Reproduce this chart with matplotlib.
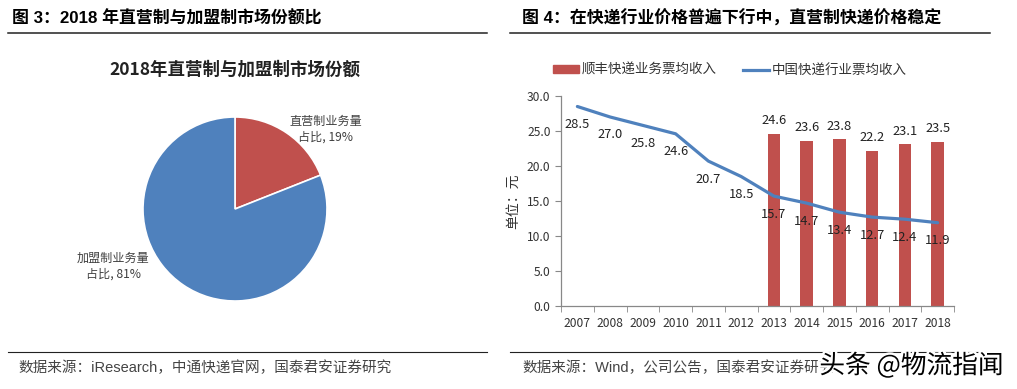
import numpy as np
import matplotlib.pyplot as plt
import matplotlib.patches as mpatches
import matplotlib.patheffects as pe
from matplotlib.lines import Line2D

plt.rcParams['font.family'] = ['Noto Sans CJK SC', 'DejaVu Sans']
LATIM = ['Liberation Sans', 'Noto Sans CJK SC']

# ---- dados ----
pie_labels = ["直营制业务量\n占比, 19%", "加盟制业务量\n占比, 81%"]
pie_values = [19, 81]

anos = ["2007", "2008", "2009", "2010", "2011", "2012",
        "2013", "2014", "2015", "2016", "2017", "2018"]
industria = [28.5, 27.0, 25.8, 24.6, 20.7, 18.5, 15.7, 14.7, 13.4, 12.7, 12.4, 11.9]
sf_anos = ["2013", "2014", "2015", "2016", "2017", "2018"]
sf_valores = [24.6, 23.6, 23.8, 22.2, 23.1, 23.5]

W, H = 1017, 389
VERMELHO = "#C0504D"
AZUL = "#4F81BD"
CINZA = "#404040"


def fx(x):
    return x / W


def fy(y):
    return 1 - y / H


fig = plt.figure(figsize=(W / 100, H / 100), dpi=100)
fig.patch.set_facecolor("white")

# ---- cabeçalhos e rodapés ----
fig.text(fx(12), fy(18), "图 3：2018 年直营制与加盟制市场份额比", fontsize=12.2,
         fontweight="bold", va="center", ha="left", color="black", family=LATIM)
fig.text(fx(522), fy(18), "图 4：在快递行业价格普遍下行中，直营制快递价格稳定", fontsize=12.2,
         fontweight="bold", va="center", ha="left", color="black", family=LATIM)
for x0, x1 in [(8, 487), (510, 990)]:
    fig.add_artist(Line2D([fx(x0), fx(x1)], [fy(33), fy(33)], color="#222222", lw=1.1))
    fig.add_artist(Line2D([fx(x0), fx(x1)], [fy(352), fy(352)], color="#222222", lw=0.8))
fig.text(fx(18), fy(368), "数据来源：iResearch，中通快递官网，国泰君安证券研究", fontsize=10.5,
         va="center", ha="left", color="#444444", family=LATIM)
fig.text(fx(522), fy(368), "数据来源：Wind，公司公告，国泰君安证券研究", fontsize=10.5,
         va="center", ha="left", color="#444444", family=LATIM)
wm = fig.text(fx(1004), fy(366), "头条 @物流指闻", fontsize=18.5, va="center", ha="right",
              color="black")
wm.set_path_effects([pe.withStroke(linewidth=3.5, foreground="white")])

# ---- pizza ----
R = 92
cx, cy = 235, 209
ax1 = fig.add_axes([fx(cx - R), fy(cy + R), 2 * R / W, 2 * R / H])
ax1.pie(pie_values, colors=[VERMELHO, AZUL], startangle=90, counterclock=False,
        wedgeprops=dict(edgecolor="white", linewidth=1.2))
ax1.set_xlim(-1, 1)
ax1.set_ylim(-1, 1)
ax1.set_aspect("equal")
fig.text(fx(235), fy(70), "2018年直营制与加盟制市场份额", fontsize=12.6, fontweight="bold",
         ha="center", va="center", color="#222222")
fig.text(fx(326), fy(129), pie_labels[0], fontsize=8.7, ha="center", va="center",
         color=CINZA, linespacing=1.25)
fig.text(fx(113), fy(266), pie_labels[1], fontsize=8.7, ha="center", va="center",
         color=CINZA, linespacing=1.25)

# ---- barras + linha ----
ax2 = fig.add_axes([fx(561), fy(306), fx(954 - 561), (306 - 96) / H])
x = np.arange(len(anos))
x_sf = np.array([anos.index(a) for a in sf_anos])
ax2.bar(x_sf, sf_valores, width=0.38, color=VERMELHO, zorder=2)
ax2.plot(x, industria, color=AZUL, linewidth=2.3, zorder=3, solid_capstyle="round")

for xi, v in zip(x, industria):
    ax2.annotate(f"{v:.1f}", (xi, v), xytext=(0, -18), textcoords="offset pixels",
                 ha="center", va="center", fontsize=9.3, color="#222222", zorder=4)
for xi, v in zip(x_sf, sf_valores):
    ax2.annotate(f"{v:.1f}", (xi, v), xytext=(0, 13), textcoords="offset pixels",
                 ha="center", va="center", fontsize=9.3, color="#222222", zorder=4)

ax2.set_xlim(-0.5, len(anos) - 0.5)
ax2.set_ylim(0, 30)
ax2.set_yticks(np.arange(0, 30.1, 5))
ax2.set_yticklabels([f"{t:.1f}" for t in np.arange(0, 30.1, 5)])
ax2.set_xticks(x)
ax2.set_xticklabels(anos)
ax2.set_xticks(np.arange(-0.5, len(anos)), minor=True)
ax2.tick_params(axis="x", which="major", length=0, labelsize=8.7, colors="#333333", pad=8)
ax2.tick_params(axis="x", which="minor", length=4, color="#888888", direction="out")
ax2.tick_params(axis="y", length=4, color="#888888", labelsize=8.7, labelcolor="#333333")
for s in ["top", "right"]:
    ax2.spines[s].set_visible(False)
for s in ["left", "bottom"]:
    ax2.spines[s].set_color("#888888")
    ax2.spines[s].set_linewidth(0.9)
ax2.set_ylabel("单位：元", fontsize=10, color="#333333", labelpad=5)

handles = [mpatches.Patch(color=VERMELHO, label="顺丰快递业务票均收入"),
           Line2D([0], [0], color=AZUL, lw=2.3, label="中国快递行业票均收入")]
fig.legend(handles=handles, loc="center", bbox_to_anchor=(fx(730), fy(70)), ncol=2,
           frameon=False, fontsize=9.7, handlelength=1.9, handleheight=0.5,
           handletextpad=0.2, columnspacing=2.0, labelcolor="#333333")

fig.savefig("out.png", dpi=100, facecolor="white")
